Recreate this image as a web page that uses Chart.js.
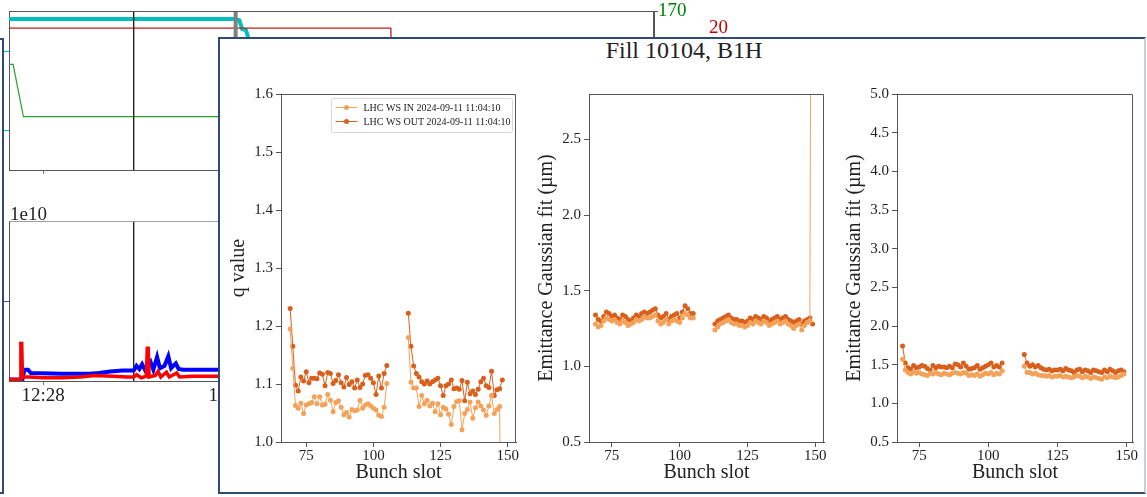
<!DOCTYPE html>
<html>
<head>
<meta charset="utf-8">
<title>Fill 10104, B1H</title>
<script src="https://cdn.jsdelivr.net/npm/chart.js@4.4.1/dist/chart.umd.min.js"></script>
<style>
    body {
        margin: 0;
        width: 1147px;
        height: 497px;
        background: #ffffff;
        position: relative;
        overflow: hidden;
        font-family: 'Liberation Serif', serif;
        color: #222222;
    }
    canvas {
        position: absolute;
    }
    .window {
        position: absolute;
        box-sizing: border-box;
        background: #ffffff;
        border: 2px solid #2d4b73;
    }
    #sideWindow {
        left: -20px;
        top: 38px;
        width: 24px;
        height: 456px;
    }
    #fillWindow {
        left: 218px;
        top: 37px;
        width: 928px;
        height: 457px;
        border-right-color: #c5d0dc;
    }
    #offsetText {
        position: absolute;
        left: 10px;
        top: 204px;
        font-size: 19px;
        line-height: 19px;
    }
    #fillTitle {
        position: absolute;
        left: 484px;
        top: 38px;
        width: 400px;
        text-align: center;
        font-size: 24px;
        line-height: 24px;
    }
</style>
</head>
<body>
<canvas id="bgTop" width="760" height="200" style="left:0px;top:0px"></canvas>
<canvas id="bgBottom" width="700" height="230" style="left:0px;top:190px"></canvas>
<div id="offsetText">1e10</div>
<div id="sideWindow" class="window"></div>
<div id="fillWindow" class="window"></div>
<div id="fillTitle">Fill 10104, B1H</div>
<canvas id="qChart" width="300" height="411" style="left:222px;top:80px"></canvas>
<canvas id="emitChart" width="300" height="411" style="left:530px;top:80px"></canvas>
<canvas id="emitWideChart" width="301" height="411" style="left:838px;top:80px"></canvas>
<script>
const serif = '"Liberation Serif", serif';
const inkColor = '#222222';
const spineColor = '#555555';
const inColor = '#f4a259';
const outColor = '#d9601c';

// ---- wire scanner data, bunch by bunch ----
const legendLabels = ['LHC WS IN 2024-09-11 11:04:10', 'LHC WS OUT 2024-09-11 11:04:10'];

const bunchSlots = [
    69, 70, 71, 72, 73, 74, 75, 76, 77, 78, 79, 80, 81, 82, 83, 84, 85, 86, 87,
    88, 89, 90, 91, 92, 93, 94, 95, 96, 97, 98, 99, 100, 101, 102, 103, 104, 105,
    113, 114, 115, 116, 117, 118, 119, 120, 121, 122, 123, 124, 125, 126, 127, 128,
    129, 130, 131, 132, 133, 134, 135, 136, 137, 138, 139, 140, 141, 142, 143, 144,
    145, 146, 147, 148, 149
];
const slotTicks = [75, 100, 125, 150];

const qIn = [
    1.195, 1.127, 1.063, 1.058, 1.067, 1.049, 1.064, 1.066, 1.068, 1.078, 1.066, 1.078,
    1.064, 1.065, 1.082, 1.072, 1.052, 1.068, 1.071, 1.060, 1.047, 1.051, 1.043, 1.056,
    1.054, 1.055, 1.072, 1.058, 1.064, 1.066, 1.062, 1.058, 1.055, 1.046, 1.044, 1.060, 1.101,
    1.180, 1.103, 1.093, 1.093, 1.061, 1.080, 1.066, 1.072, 1.062, 1.067, 1.052, 1.066,
    1.047, 1.060, 1.057, 1.048, 1.030, 1.061, 1.070, 1.071, 1.021, 1.049, 1.056, 1.069,
    1.041, 1.059, 1.069, 1.062, 1.055, 1.046, 1.062, 1.080, 1.049, 1.056, 1.061, 0.600
];
const qOut = [
    1.230, 1.165, 1.098, 1.088, 1.112, 1.105, 1.121, 1.102, 1.110, 1.110, 1.109, 1.119,
    1.117, 1.097, 1.120, 1.118, 1.101, 1.106, 1.116, 1.102, 1.095, 1.111, 1.099, 1.104,
    1.093, 1.107, 1.094, 1.100, 1.115, 1.116, 1.110, 1.102, 1.082, 1.114, 1.093, 1.118, 1.132,
    1.222, 1.165, 1.131, 1.118, 1.112, 1.104, 1.100, 1.105, 1.100, 1.104, 1.107, 1.110,
    1.097, 1.080, 1.097, 1.100, 1.107, 1.092, 1.093, 1.091, 1.106, 1.071, 1.103, 1.083,
    1.088, 1.082, 1.091, 1.104, 1.110, 1.097, 1.094, 1.122, 1.080, 1.090, 1.092, 1.107
];
const qTicks = [1.0, 1.1, 1.2, 1.3, 1.4, 1.5, 1.6];

const emitIn = [
    1.28, 1.26, 1.27, 1.30, 1.32, 1.31, 1.30, 1.31, 1.29, 1.28, 1.30, 1.29, 1.27, 1.28,
    1.29, 1.31, 1.30, 1.31, 1.33, 1.32, 1.32, 1.33, 1.34, 1.30, 1.28, 1.29, 1.31, 1.28,
    1.30, 1.31, 1.30, 1.29, 1.32, 1.35, 1.34, 1.32, 1.32,
    1.24, 1.26, 1.28, 1.29, 1.30, 1.31, 1.29, 1.28, 1.28, 1.27, 1.27, 1.26, 1.27, 1.29,
    1.28, 1.30, 1.29, 1.28, 1.30, 1.29, 1.27, 1.28, 1.29, 1.30, 1.28, 1.29, 1.30, 1.28,
    1.27, 1.25, 1.27, 1.28, 1.24, 1.27, 1.29, 1.30, 8.00
];
const emitOut = [
    1.34, 1.31, 1.30, 1.33, 1.36, 1.35, 1.33, 1.34, 1.32, 1.31, 1.34, 1.33, 1.31, 1.30,
    1.32, 1.34, 1.33, 1.35, 1.36, 1.35, 1.36, 1.37, 1.38, 1.34, 1.32, 1.33, 1.35, 1.31,
    1.33, 1.34, 1.35, 1.32, 1.36, 1.40, 1.38, 1.35, 1.35,
    1.28, 1.30, 1.31, 1.32, 1.33, 1.34, 1.32, 1.31, 1.31, 1.30, 1.30, 1.29, 1.30, 1.32,
    1.31, 1.33, 1.32, 1.31, 1.33, 1.32, 1.30, 1.31, 1.32, 1.33, 1.31, 1.32, 1.33, 1.31,
    1.30, 1.29, 1.30, 1.31, 1.28, 1.30, 1.31, 1.32, 1.28
];
const emitTicks = [0.5, 1.0, 1.5, 2.0, 2.5];

const emitWideIn = [
    1.57, 1.43, 1.40, 1.38, 1.41, 1.39, 1.40, 1.38, 1.37, 1.36, 1.39, 1.38, 1.40, 1.38,
    1.37, 1.39, 1.38, 1.37, 1.39, 1.40, 1.39, 1.38, 1.40, 1.39, 1.36, 1.37, 1.36, 1.38,
    1.35, 1.37, 1.39, 1.38, 1.40, 1.37, 1.39, 1.38, 1.42,
    1.48, 1.40, 1.40, 1.38, 1.39, 1.37, 1.36, 1.36, 1.35, 1.36, 1.34, 1.35, 1.35, 1.36,
    1.34, 1.35, 1.34, 1.33, 1.34, 1.36, 1.35, 1.33, 1.35, 1.34, 1.32, 1.34, 1.33, 1.32,
    1.31, 1.34, 1.33, 1.35, 1.34, 1.33, 1.34, 1.36, 1.38
];
const emitWideOut = [
    1.74, 1.52, 1.46, 1.44, 1.49, 1.46, 1.47, 1.49, 1.48, 1.45, 1.43, 1.49, 1.46, 1.48,
    1.47, 1.47, 1.46, 1.48, 1.46, 1.51, 1.50, 1.47, 1.52, 1.48, 1.44, 1.45, 1.46, 1.49,
    1.44, 1.46, 1.48, 1.50, 1.52, 1.47, 1.49, 1.47, 1.52,
    1.63, 1.52, 1.48, 1.50, 1.47, 1.49, 1.46, 1.44, 1.43, 1.44, 1.42, 1.43, 1.43, 1.44,
    1.42, 1.45, 1.43, 1.42, 1.40, 1.43, 1.44, 1.41, 1.43, 1.42, 1.40, 1.43, 1.42, 1.41,
    1.40, 1.43, 1.41, 1.44, 1.42, 1.40, 1.42, 1.43, 1.41
];
const emitWideTicks = [0.5, 1.0, 1.5, 2.0, 2.5, 3.0, 3.5, 4.0, 4.5, 5.0];

// ---- timber-style traces behind (time in minutes after 12:00) ----
const timeTicks = [28, 30, 32, 34];
const markerTimes = [28.97, 30.06];

const cyanT = [27.636, 30.06, 30.10, 30.13, 30.17, 30.19, 30.22, 34.6];
const cyanV = [6709, 6709, 6700, 6645, 6639, 6600, 6300, 6300];
const cyanTicks = [6000, 6500];
const redT = [27.636, 31.72, 31.735, 34.6];
const redV = [20, 20, 12, 12];
const greenT = [27.636, 27.68, 27.79, 34.6];
const greenV = [113, 113, 57, 57];

const intRedT = [
    27.636, 27.755, 27.763, 27.772, 27.78, 27.86, 28.0, 28.2, 28.4, 28.55, 28.75, 28.9,
    28.97, 29.0, 29.05, 29.105, 29.115, 29.125, 29.135, 29.2, 29.23, 29.26, 29.32, 29.35,
    29.43, 29.46, 29.6, 29.9, 30.5
];
const intRedV = [
    0.02, 0.02, 0.47, 0.47, 0.05, 0.05, 0.04, 0.04, 0.05, 0.07, 0.06, 0.05,
    0.05, 0.08, 0.04, 0.06, 0.41, 0.41, 0.05, 0.07, 0.12, 0.05, 0.11, 0.05,
    0.10, 0.05, 0.06, 0.06, 0.06
];
const intBlueT = [
    27.636, 27.78, 27.80, 27.84, 27.87, 28.2, 28.5, 28.6, 28.72, 28.85, 28.97, 29.0,
    29.03, 29.06, 29.09, 29.15, 29.18, 29.22, 29.25, 29.30, 29.34, 29.37, 29.42, 29.45,
    29.5, 29.9, 30.5
];
const intBlueV = [
    0.02, 0.02, 0.14, 0.14, 0.10, 0.09, 0.09, 0.10, 0.12, 0.13, 0.13, 0.19,
    0.15, 0.21, 0.14, 0.24, 0.14, 0.30, 0.16, 0.19, 0.31, 0.16, 0.22, 0.15,
    0.14, 0.14, 0.14
];

function pairs(xs, ys) {
    return xs.map((x, i) => ({ x: x, y: ys[i] }));
}

// a null point between the two trains keeps the line from bridging the gap
function trainPoints(values) {
    const points = [];
    bunchSlots.forEach((slot, i) => {
        if (i > 0 && slot - bunchSlots[i - 1] > 1) {
            points.push({ x: (slot + bunchSlots[i - 1]) / 2, y: null });
        }
        points.push({ x: slot, y: values[i] });
    });
    return points;
}

function fixedTicks(values) {
    return (axis) => {
        axis.ticks = values.map((v) => ({ value: v }));
    };
}

// right-hand axes whose labels may poke above the plot without moving it
function slimRightAxis(width) {
    return (s) => {
        s.width = width;
        s.paddingTop = 0;
        s.paddingBottom = 0;
    };
}

// top and right spines, the library only draws the axis borders
const frameBox = {
    id: 'frameBox',
    afterDraw(chart, args, opts) {
        const a = chart.chartArea;
        const ctx = chart.ctx;
        ctx.save();
        ctx.strokeStyle = opts.color || spineColor;
        ctx.lineWidth = 1;
        ctx.beginPath();
        ctx.moveTo(Math.round(a.left) + 0.5, Math.round(a.top) + 0.5);
        ctx.lineTo(Math.round(a.right) - 0.5, Math.round(a.top) + 0.5);
        if (opts.right !== false) {
            ctx.lineTo(Math.round(a.right) - 0.5, Math.round(a.bottom) + 0.5);
        }
        ctx.stroke();
        ctx.restore();
    },
};

// matplotlib-like legend box in the upper right of the plot
const insetLegend = {
    id: 'insetLegend',
    afterDraw(chart, args, opts) {
        if (!opts.show) {
            return;
        }
        const ctx = chart.ctx;
        const a = chart.chartArea;
        const w = 181;
        const h = 34;
        const x = Math.round(a.right - w - 4) + 0.5;
        const y = Math.round(a.top + 4) + 0.5;
        ctx.save();
        ctx.fillStyle = 'rgba(255,255,255,0.8)';
        ctx.strokeStyle = '#d6d6d6';
        ctx.lineWidth = 1;
        ctx.beginPath();
        ctx.roundRect(x, y, w, h, 2);
        ctx.fill();
        ctx.stroke();
        ctx.font = '10px ' + serif;
        ctx.textBaseline = 'middle';
        chart.data.datasets.forEach((ds, i) => {
            const cy = y + 9 + i * 14;
            ctx.strokeStyle = ds.borderColor;
            ctx.beginPath();
            ctx.moveTo(x + 4, cy);
            ctx.lineTo(x + 26, cy);
            ctx.stroke();
            ctx.fillStyle = ds.borderColor;
            ctx.beginPath();
            ctx.arc(x + 15, cy, 2.5, 0, Math.PI * 2);
            ctx.fill();
            ctx.fillStyle = inkColor;
            ctx.fillText(ds.label, x + 32, cy + 0.5);
        });
        ctx.restore();
    },
};

function series(label, values, color) {
    return {
        label: label,
        data: trainPoints(values),
        borderColor: color,
        backgroundColor: color,
        borderWidth: 1,
        pointRadius: 2.5,
        pointBorderWidth: 0,
        pointBackgroundColor: color,
        spanGaps: false,
        tension: 0,
    };
}

function bunchChart(id, cfg) {
    const tickFont = { family: serif, size: 15 };
    const titleFont = { family: serif, size: 20 };
    return new Chart(document.getElementById(id), {
        type: 'line',
        data: {
            datasets: [
                series(legendLabels[0], cfg.inValues, inColor),
                series(legendLabels[1], cfg.outValues, outColor),
            ],
        },
        options: {
            responsive: false,
            maintainAspectRatio: false,
            animation: false,
            layout: { padding: { left: 5, top: 14, right: cfg.padRight, bottom: 0 } },
            plugins: {
                legend: { display: false },
                tooltip: { enabled: false },
                insetLegend: { show: cfg.legend },
                frameBox: { color: spineColor },
            },
            scales: {
                x: {
                    type: 'linear',
                    min: cfg.xMin,
                    max: cfg.xMax,
                    afterBuildTicks: fixedTicks(slotTicks),
                    afterFit: (s) => { s.height = 49; },
                    ticks: { font: tickFont, color: inkColor, padding: 0, maxRotation: 0, autoSkip: false },
                    grid: { drawOnChartArea: false, tickLength: 5, color: spineColor },
                    border: { color: spineColor },
                    title: { display: true, text: 'Bunch slot', font: titleFont, color: inkColor, padding: { top: 0, bottom: 6 } },
                },
                y: {
                    type: 'linear',
                    min: cfg.yMin,
                    max: cfg.yMax,
                    afterBuildTicks: fixedTicks(cfg.yTicks),
                    afterFit: (s) => { s.width = 54; },
                    ticks: { font: tickFont, color: inkColor, padding: 3, callback: (v) => v.toFixed(1) },
                    grid: { drawOnChartArea: false, tickLength: 5, color: spineColor },
                    border: { color: spineColor },
                    title: { display: true, text: cfg.yTitle, font: titleFont, color: inkColor, padding: { top: 0, bottom: 0 } },
                },
            },
        },
        plugins: [frameBox, insetLegend],
    });
}

bunchChart('qChart', {
    inValues: qIn, outValues: qOut, legend: true,
    xMin: 65.6, xMax: 153.1, yMin: 1.0, yMax: 1.6, yTicks: qTicks,
    yTitle: 'q value', padRight: 6,
});
bunchChart('emitChart', {
    inValues: emitIn, outValues: emitOut, legend: false,
    xMin: 66.6, xMax: 153.2, yMin: 0.5, yMax: 2.8, yTicks: emitTicks,
    yTitle: 'Emittance Gaussian fit (µm)', padRight: 6,
});
bunchChart('emitWideChart', {
    inValues: emitWideIn, outValues: emitWideOut, legend: false,
    xMin: 67.0, xMax: 152.3, yMin: 0.5, yMax: 5.0, yTicks: emitWideTicks,
    yTitle: 'Emittance Gaussian fit (µm)', padRight: 6,
});

// ---- background traces ----
function trace(xs, ys, color, width, axis) {
    return {
        data: pairs(xs, ys),
        borderColor: color,
        borderWidth: width,
        pointRadius: 0,
        tension: 0,
        yAxisID: axis,
    };
}

function timeAxis(showLabels, height) {
    return {
        type: 'linear',
        min: 27.636,
        max: 34.535,
        afterBuildTicks: fixedTicks(timeTicks),
        afterFit: (s) => { s.height = height; },
        ticks: {
            display: showLabels,
            font: { family: serif, size: 19 },
            color: inkColor,
            padding: 0,
            maxRotation: 0,
            autoSkip: false,
            callback: (v) => '12:' + String(v).padStart(2, '0'),
        },
        grid: { drawOnChartArea: false, tickLength: 4, color: '#777777' },
        border: { color: spineColor },
    };
}

new Chart(document.getElementById('bgTop'), {
    type: 'line',
    data: {
        datasets: [
            trace([markerTimes[1], markerTimes[1]], [5700, 6800], '#808080', 4, 'yC'),
            trace([markerTimes[0], markerTimes[0]], [5700, 6800], '#000000', 1.2, 'yC'),
            trace(redT, redV, '#b82020', 1.3, 'yR'),
            trace(greenT, greenV, '#2ca02c', 1.2, 'yG'),
            trace(cyanT, cyanV, '#00bfbf', 4, 'yC'),
        ],
    },
    options: {
        responsive: false,
        maintainAspectRatio: false,
        animation: false,
        layout: { padding: { left: 0, top: 11, right: 16, bottom: 20 } },
        plugins: { legend: { display: false }, tooltip: { enabled: false }, frameBox: { color: spineColor } },
        scales: {
            x: timeAxis(false, 10),
            yC: {
                position: 'left',
                min: 5753,
                max: 6759,
                afterBuildTicks: fixedTicks(cyanTicks),
                afterFit: (s) => { s.width = 9; },
                ticks: { display: false },
                grid: { drawOnChartArea: false, tickLength: 5, color: '#00bfbf' },
                border: { color: spineColor },
            },
            yG: {
                position: 'right',
                min: 0,
                max: 170,
                afterBuildTicks: fixedTicks([170]),
                afterFit: slimRightAxis(50),
                ticks: { font: { family: serif, size: 19 }, color: '#008000', padding: 0 },
                grid: { drawOnChartArea: false, tickLength: 4, color: spineColor },
                border: { color: spineColor },
            },
            yR: {
                position: 'right',
                min: 0,
                max: 22.4,
                afterBuildTicks: fixedTicks([20]),
                afterFit: slimRightAxis(40),
                ticks: { font: { family: serif, size: 19 }, color: '#c00000', padding: 2 },
                grid: { drawOnChartArea: false, tickLength: 3, tickColor: 'rgba(0,0,0,0)' },
                border: { display: false },
            },
        },
    },
    plugins: [frameBox],
});

new Chart(document.getElementById('bgBottom'), {
    type: 'line',
    data: {
        datasets: [
            trace(intRedT, intRedV, '#ff0000', 3.5, 'y'),
            trace(intBlueT, intBlueV, '#0000ff', 4, 'y'),
            trace([markerTimes[0], markerTimes[0]], [-1, 3], '#000000', 1.2, 'y'),
        ],
    },
    options: {
        responsive: false,
        maintainAspectRatio: false,
        animation: false,
        layout: { padding: { left: 0, top: 31, right: 46, bottom: 0 } },
        plugins: { legend: { display: false }, tooltip: { enabled: false }, frameBox: { color: '#a0a0a0', right: false } },
        scales: {
            x: timeAxis(true, 39),
            y: {
                position: 'left',
                min: 0,
                max: 2,
                afterBuildTicks: fixedTicks([1]),
                afterFit: (s) => { s.width = 9; },
                ticks: { display: false },
                grid: { drawOnChartArea: false, tickLength: 5, color: spineColor },
                border: { color: spineColor },
            },
        },
    },
    plugins: [frameBox],
});
</script>
</body>
</html>
